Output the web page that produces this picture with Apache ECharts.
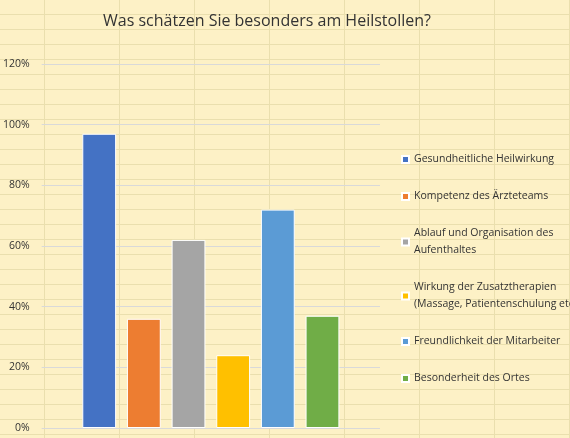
<!DOCTYPE html>
<html><head><meta charset="utf-8">
<script src="https://cdn.jsdelivr.net/npm/echarts@6/dist/echarts.min.js"></script>
<style>
html,body{margin:0;padding:0;}
body{
  width:570px;height:438px;background-color:#fdf1c6;
  background-image:
    repeating-linear-gradient(to right, transparent 0, transparent 44px, #eadfae 44px, #eadfae 45px, transparent 45px, transparent 75px),
    repeating-linear-gradient(to bottom, transparent 0, transparent 14px, #eadfae 14px, #eadfae 15px);
}
#chart{width:570px;height:438px;}
</style></head>
<body>
<div id="chart"></div>
<script>
var names = ['Gesundheitliche Heilwirkung','Kompetenz des Ärzteteams','Ablauf und Organisation des\nAufenthaltes','Wirkung der Zusatztherapien\n(Massage, Patientenschulung etc.)','Freundlichkeit der Mitarbeiter','Besonderheit des Ortes'];
var values = [97, 36, 62, 24, 72, 37];
var colors = ['#4472c4','#ed7d31','#a5a5a5','#ffc000','#5b9bd5','#70ad47'];

var chart = echarts.init(document.getElementById('chart'));
var series = names.map(function(n, i){
    return {
        name: n, type: 'bar', data: [values[i]],
        barGap: '32%', barCategoryGap: '24%',
        itemStyle: {color: colors[i], borderColor: '#ffffff', borderWidth: 1}
    };
});
chart.setOption({
    title: {
        text: 'Was schätzen Sie besonders am Heilstollen?',
        left: 262, top: 8, textAlign: 'center',
        textStyle: {fontFamily: 'Open Sans', fontWeight: 'normal', fontSize: 16, color: '#333'}
    },
    legend: {
        orient: 'vertical', left: 396, top: 146,
        itemWidth: 7, itemHeight: 7, itemGap: 20, icon: 'rect',
        textStyle: {fontFamily: 'Open Sans', fontSize: 10.5, color: '#333', lineHeight: 17}
    },
    grid: {left: 40, right: 190, top: 64, bottom: 10, containLabel: false},
    xAxis: {type: 'category', data: [''], axisLine: {show: false}, axisTick: {show: false}, axisLabel: {show: false}},
    yAxis: {
        type: 'value', min: 0, max: 120, interval: 20,
        axisLabel: {formatter: '{value}%', color: '#333', fontFamily: 'Open Sans', fontSize: 10.5, margin: 12},
        splitLine: {lineStyle: {color: '#d9d9d9'}}
    },
    series: series
});
</script>
</body></html>
